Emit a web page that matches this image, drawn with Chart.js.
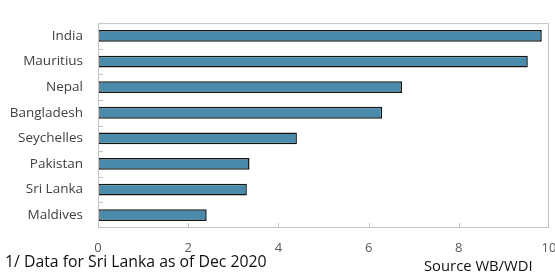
<!DOCTYPE html>
<html>
<head>
<meta charset="utf-8">
<script src="https://cdn.jsdelivr.net/npm/chart.js@4/dist/chart.umd.min.js"></script>
<style>
	html, body { margin: 0; padding: 0; background: #fff; }
	#wrap { position: relative; width: 555px; height: 272px; overflow: hidden; }
	.note { position: absolute; font-family: 'Open Sans', 'Noto Sans', sans-serif; color: #111; white-space: nowrap; line-height: 1; }
</style>
</head>
<body>
<div id="wrap">
	<canvas id="chart" width="555" height="272"></canvas>
	<div class="note" style="left:5px; top:254px; font-size:15.8px;">1/ Data for Sri Lanka as of Dec 2020</div>
	<div class="note" style="left:424px; top:258px; font-size:14.8px;">Source WB/WDI</div>
</div>
<script>
const countries = ['India', 'Mauritius', 'Nepal', 'Bangladesh', 'Seychelles', 'Pakistan', 'Sri Lanka', 'Maldives'];
const values = [9.84, 9.53, 6.74, 6.30, 4.41, 3.36, 3.30, 2.41];
const xTicks = [0, 2, 4, 6, 8, 10];

const fontFamily = "'Open Sans', 'Noto Sans', sans-serif";

// frame around plot area + short tick marks drawn inside it
const framePlugin = {
	id: 'frame',
	afterDraw(chart) {
		const { ctx, chartArea: a, scales } = chart;
		ctx.save();
		ctx.strokeStyle = '#c4c4c4';
		ctx.lineWidth = 1;
		ctx.strokeRect(a.left + 0.5, a.top + 0.5, a.right - a.left - 1, a.bottom - a.top - 1);
		ctx.beginPath();
		xTicks.slice(1, -1).forEach(v => {
			const x = Math.round(scales.x.getPixelForValue(v)) + 0.5;
			ctx.moveTo(x, a.bottom);
			ctx.lineTo(x, a.bottom - 5);
		});
		for (let i = 1; i < countries.length; i++) {
			const y = Math.round((scales.y.getPixelForValue(i - 1) + scales.y.getPixelForValue(i)) / 2) + 0.5;
			ctx.moveTo(a.left, y);
			ctx.lineTo(a.left + 5, y);
		}
		ctx.stroke();
		ctx.restore();
	}
};

new Chart(document.getElementById('chart'), {
	type: 'bar',
	data: {
		labels: countries,
		datasets: [{
			data: values,
			backgroundColor: '#4a8aab',
			borderColor: '#141414',
			borderWidth: 1.5,
			borderSkipped: false,
			categoryPercentage: 1,
			barPercentage: 0.46
		}]
	},
	plugins: [framePlugin],
	options: {
		indexAxis: 'y',
		responsive: false,
		animation: false,
		layout: { padding: { top: 16, right: 6, left: 0, bottom: 0 } },
		plugins: {
			legend: { display: false },
			tooltip: { enabled: false }
		},
		scales: {
			x: {
				min: 0,
				max: 10,
				afterBuildTicks: scale => { scale.ticks = xTicks.map(v => ({ value: v })); },
				afterFit: scale => {
					scale.height = 44;
					scale.paddingLeft = 0;
					scale.paddingRight = 0;
				},
				grid: { display: false, drawTicks: false },
				border: { display: false },
				ticks: {
					padding: 12,
					color: '#595959',
					font: { family: fontFamily, size: 13 }
				}
			},
			y: {
				afterFit: scale => { scale.width = 98; },
				grid: { display: false, drawTicks: false },
				border: { display: false },
				ticks: {
					padding: 15,
					color: '#404040',
					font: { family: fontFamily, size: 13.5 }
				}
			}
		}
	}
});
</script>
</body>
</html>
